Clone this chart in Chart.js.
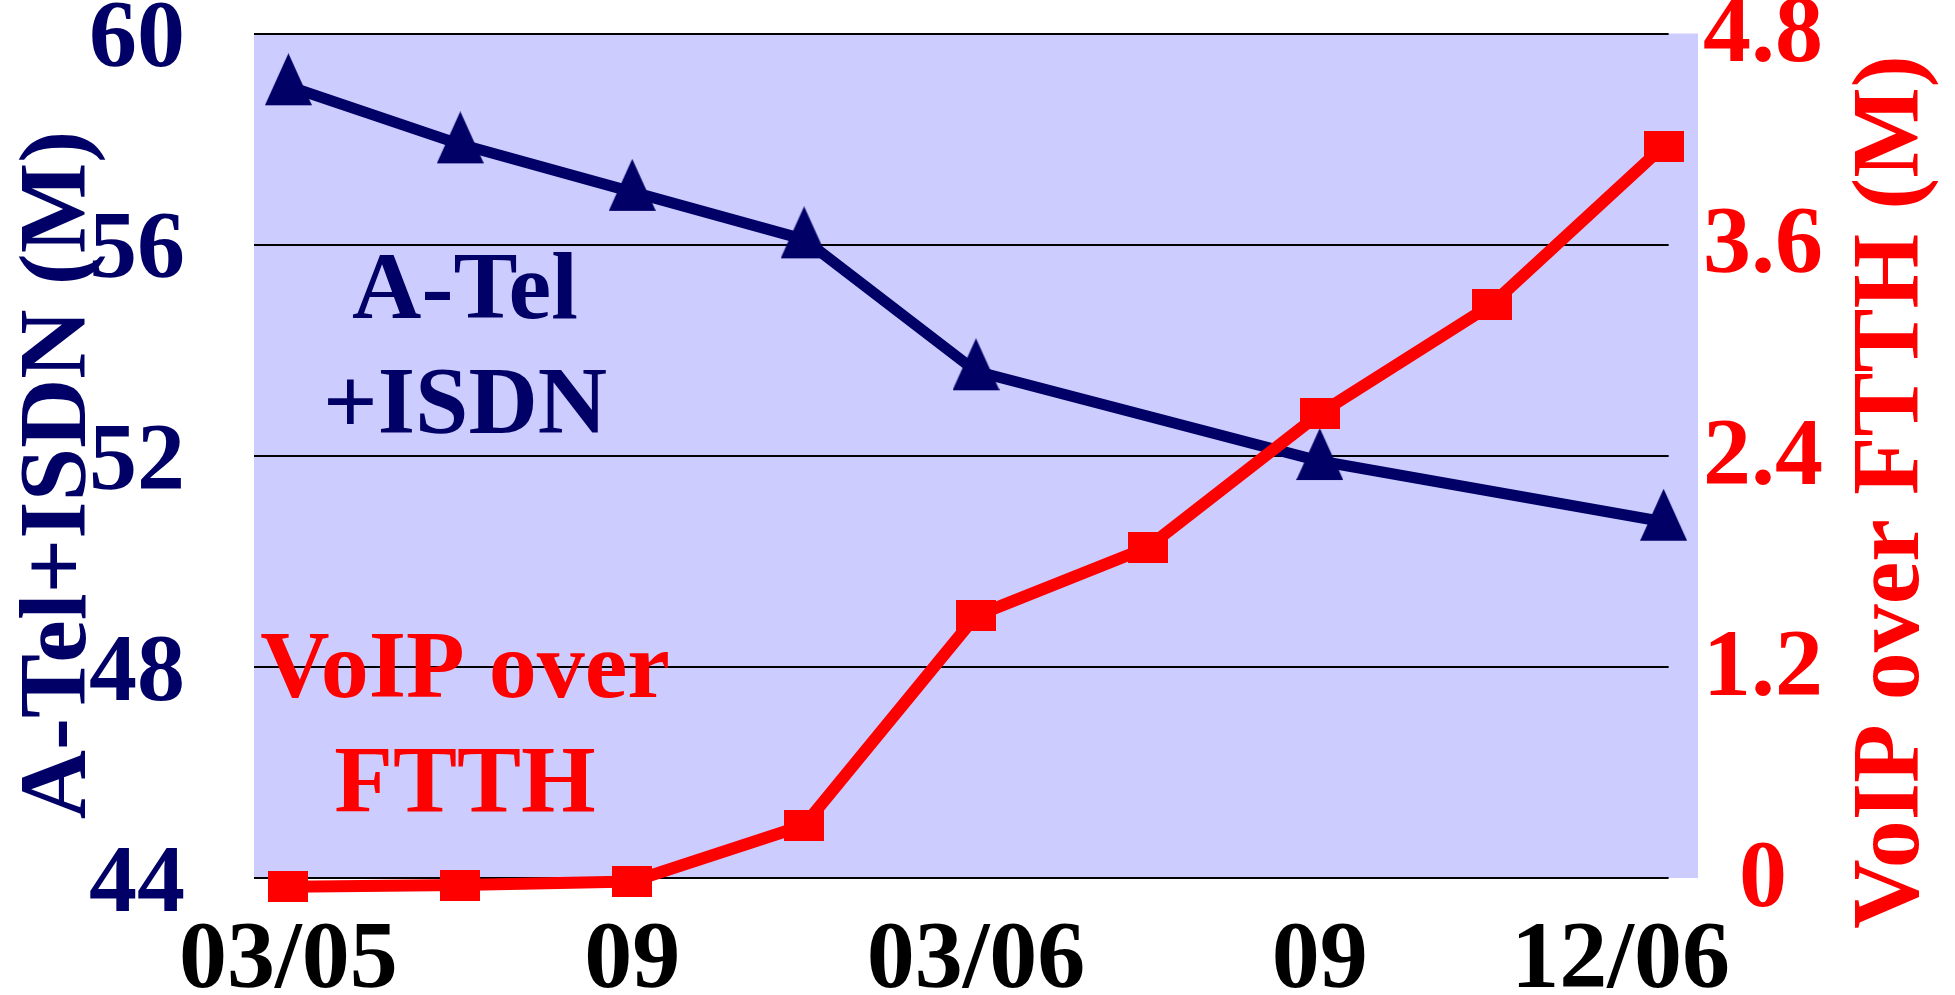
<!DOCTYPE html>
<html>
<head>
<meta charset="utf-8">
<script src="https://cdn.jsdelivr.net/npm/chart.js@4.4.1/dist/chart.umd.min.js"></script>
<style>
  html, body { margin: 0; padding: 0; background: #ffffff; }
  #wrap { width: 1955px; height: 995px; }
</style>
</head>
<body>
<div id="wrap"><canvas id="chart" width="1955" height="995"></canvas></div>
<script>
// Quarterly periods, March 2005 onwards
const periods = ['03/05', '06/05', '09/05', '12/05', '03/06', '06/06', '09/06', '12/06', '03/07'];
// Analog telephone + ISDN subscribers (millions), left axis
const aTelIsdn = [59.0, 57.9, 57.0, 56.1, 53.6, null, 51.9, null, 50.75];
// VoIP over FTTH subscribers (millions), right axis
const voipFtth = [-0.05, -0.04, -0.02, 0.30, 1.49, 1.88, 2.64, 3.26, 4.16];

// Axis ticks
const xTickAt = [0, 2, 4, 6, 7.75];
const xTickLabels = ['03/05', '09', '03/06', '09', '12/06'];
const leftTicks = [44, 48, 52, 56, 60];
const rightTicks = [0, 1.2, 2.4, 3.6, 4.8];
const rightTickLabels = ['0', '1.2', '2.4', '3.6', '4.8'];

const NAVY = '#000066';
const RED = '#ff0000';
const PLOT_BG = '#ccccff';
const FONT_FAMILY = '"Liberation Serif", "Times New Roman", serif';

// Marker sprites: a tall triangle and a wide rectangle
function triangleMarker(color) {
  const c = document.createElement('canvas');
  c.width = 47; c.height = 66;
  const g = c.getContext('2d');
  g.fillStyle = color;
  g.beginPath();
  g.moveTo(23.5, 0);
  g.lineTo(47, 52);
  g.lineTo(0, 52);
  g.closePath();
  g.fill();
  return c;
}
function rectMarker(color) {
  const c = document.createElement('canvas');
  c.width = 40; c.height = 31;
  const g = c.getContext('2d');
  g.fillStyle = color;
  g.fillRect(0, 0, 40, 31);
  return c;
}

const toPoints = vals => periods.map((p, i) => ({ x: i, y: vals[i] }));

// Plot background, horizontal grid, axis titles and series captions
const decor = {
  id: 'decor',
  beforeDatasetsDraw(chart) {
    const { ctx, chartArea, scales } = chart;
    ctx.save();
    ctx.fillStyle = PLOT_BG;
    ctx.fillRect(chartArea.left, chartArea.top, chartArea.right - chartArea.left, chartArea.bottom - chartArea.top);
    const gridEnd = scales.x.getPixelForValue(periods.length - 1) + 5;
    ctx.strokeStyle = '#000000';
    ctx.lineWidth = 2;
    scales.y.ticks.forEach(t => {
      const py = Math.round(scales.y.getPixelForValue(t.value));
      ctx.beginPath();
      ctx.moveTo(chartArea.left, py);
      ctx.lineTo(gridEnd, py);
      ctx.stroke();
    });
    ctx.restore();
  },
  afterDraw(chart) {
    const { ctx } = chart;
    ctx.save();
    ctx.font = 'bold 96px ' + FONT_FAMILY;
    ctx.textBaseline = 'alphabetic';
    ctx.textAlign = 'center';

    // vertical axis titles
    ctx.save();
    ctx.translate(85, 475);
    ctx.rotate(-Math.PI / 2);
    ctx.fillStyle = NAVY;
    ctx.fillText('A-Tel+ISDN (M)', 0, 0);
    ctx.restore();

    ctx.save();
    ctx.translate(1918, 492);
    ctx.rotate(-Math.PI / 2);
    ctx.fillStyle = RED;
    ctx.fillText('VoIP over FTTH (M)', 0, 0);
    ctx.restore();

    // series captions inside the plot
    ctx.fillStyle = NAVY;
    ctx.fillText('A-Tel', 465, 318);
    ctx.fillText('+ISDN', 465, 433);
    ctx.fillStyle = RED;
    ctx.fillText('VoIP over', 465, 697);
    ctx.fillText('FTTH', 465, 812);
    ctx.restore();
  }
};

function fixSize(prop, size) {
  return scale => {
    scale[prop] = size;
    scale.paddingTop = 0;
    scale.paddingBottom = 0;
    scale.paddingLeft = 0;
    scale.paddingRight = 0;
  };
}

function draw() {
  new Chart(document.getElementById('chart'), {
    type: 'line',
    data: {
      datasets: [
        {
          label: 'VoIP over FTTH',
          data: toPoints(voipFtth),
          yAxisID: 'y2',
          borderColor: RED,
          backgroundColor: RED,
          borderWidth: 12,
          tension: 0,
          pointStyle: rectMarker(RED),
          pointRadius: 20,
          clip: false,
          order: 0
        },
        {
          label: 'A-Tel+ISDN',
          data: toPoints(aTelIsdn),
          yAxisID: 'y',
          borderColor: NAVY,
          backgroundColor: NAVY,
          borderWidth: 11,
          tension: 0,
          spanGaps: true,
          pointStyle: triangleMarker(NAVY),
          pointRadius: 20,
          clip: false,
          order: 1
        }
      ]
    },
    options: {
      responsive: false,
      animation: false,
      events: [],
      layout: { padding: { top: 33.5, left: 0, right: 0, bottom: 0 } },
      plugins: { legend: { display: false }, tooltip: { enabled: false } },
      scales: {
        x: {
          type: 'linear',
          min: -0.2,
          max: 8.2,
          grid: { display: false },
          border: { display: false },
          afterBuildTicks: s => { s.ticks = xTickAt.map(v => ({ value: v })); },
          afterFit: fixSize('height', 117),
          ticks: {
            autoSkip: false,
            maxRotation: 0,
            padding: 19,
            color: '#000000',
            font: { family: FONT_FAMILY, size: 96, weight: 'bold' },
            callback: (v, i) => xTickLabels[i]
          }
        },
        y: {
          position: 'left',
          min: 44,
          max: 60,
          grid: { display: false },
          border: { display: false },
          afterBuildTicks: s => { s.ticks = leftTicks.map(v => ({ value: v })); },
          afterFit: fixSize('width', 254),
          ticks: {
            padding: 61,
            labelOffset: 8,
            color: NAVY,
            font: { family: FONT_FAMILY, size: 96, weight: 'bold' },
            callback: v => String(v)
          }
        },
        y2: {
          position: 'right',
          min: 0,
          max: 4.8,
          grid: { display: false },
          border: { display: false },
          afterBuildTicks: s => { s.ticks = rightTicks.map(v => ({ value: v })); },
          afterFit: fixSize('width', 257),
          ticks: {
            padding: -3,
            labelOffset: 3,
            crossAlign: 'center',
            color: RED,
            font: { family: FONT_FAMILY, size: 96, weight: 'bold' },
            callback: (v, i) => rightTickLabels[i]
          }
        }
      }
    },
    plugins: [decor]
  });
}

if (document.fonts && document.fonts.load) {
  document.fonts.load('bold 96px "Liberation Serif"').then(draw, draw);
} else {
  draw();
}
</script>
</body>
</html>
